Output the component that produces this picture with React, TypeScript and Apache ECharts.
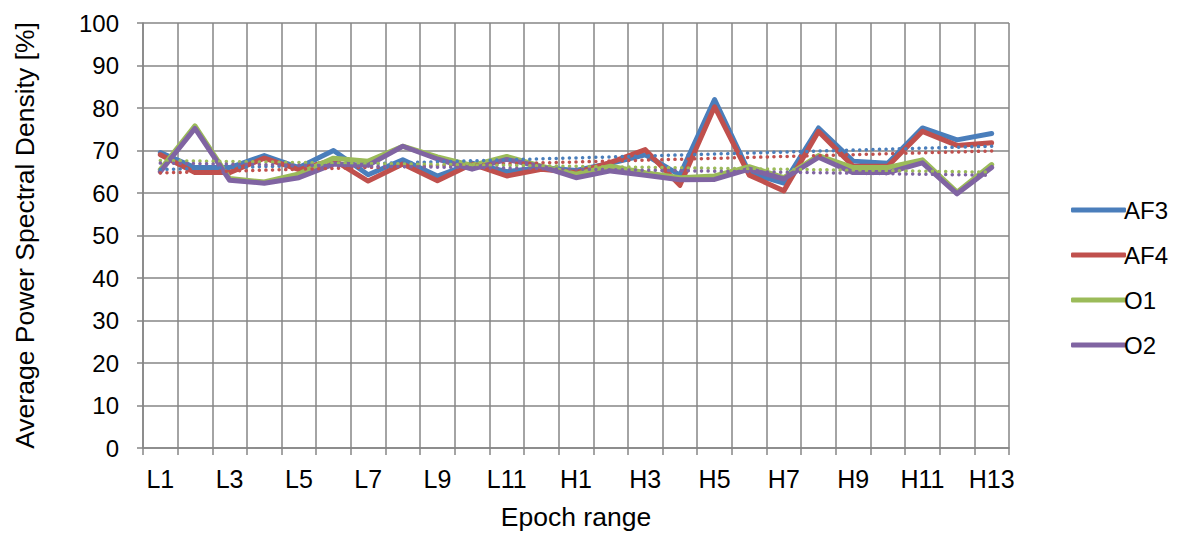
import React, { useEffect, useRef } from "react";
import * as echarts from "echarts";

// Epoch ranges: L1..L12 then H1..H13
const categories = [
  "L1", "L2", "L3", "L4", "L5", "L6", "L7", "L8", "L9", "L10", "L11", "L12",
  "H1", "H2", "H3", "H4", "H5", "H6", "H7", "H8", "H9", "H10", "H11", "H12", "H13",
];

const seriesNames = ["AF3", "AF4", "O1", "O2"];
const seriesColors = ["#4a7ebb", "#c0504d", "#9bbb59", "#8064a2"];

const af3 = [69.5, 66.0, 66.0, 68.8, 66.0, 70.0, 64.3, 67.8, 64.0, 67.0, 65.0, 66.0,
  65.3, 67.0, 69.0, 64.2, 82.0, 64.8, 62.3, 75.3, 67.5, 67.0, 75.3, 72.5, 74.0];
const af4 = [69.0, 64.8, 64.8, 68.2, 65.5, 67.8, 62.8, 66.8, 62.9, 66.8, 64.0, 65.6,
  64.8, 67.2, 70.2, 61.8, 80.3, 64.2, 60.5, 74.5, 66.3, 66.3, 74.5, 71.2, 71.8];
const o1 = [65.5, 75.8, 63.4, 62.6, 64.5, 68.2, 67.5, 71.0, 68.5, 66.5, 68.6, 66.3,
  64.4, 66.3, 64.8, 63.6, 64.0, 66.2, 63.6, 68.8, 66.0, 66.0, 67.8, 60.2, 66.7];
const o2 = [65.0, 75.2, 63.0, 62.3, 63.6, 66.8, 66.5, 71.0, 68.0, 65.6, 67.9, 66.2,
  63.6, 65.2, 64.2, 63.1, 63.2, 65.6, 63.3, 68.4, 64.8, 64.8, 67.1, 59.8, 66.0];

const seriesValues = [af3, af4, o1, o2];

const yTicks = { min: 0, max: 100, interval: 10 };

const FONT = "'Liberation Sans', Arial, sans-serif";

// Least-squares linear trend over the category index
function linearTrend(values: number[]): number[] {
  const n = values.length;
  let sx = 0, sy = 0, sxx = 0, sxy = 0;
  values.forEach((v, i) => {
    sx += i; sy += v; sxx += i * i; sxy += i * v;
  });
  const slope = (n * sxy - sx * sy) / (n * sxx - sx * sx);
  const intercept = (sy - slope * sx) / n;
  return values.map((_, i) => intercept + slope * i);
}

export default function App() {
  const ref = useRef<HTMLDivElement>(null);

  useEffect(() => {
    if (!ref.current) return;
    const chart = echarts.init(ref.current, undefined, { renderer: "svg" });

    const mainSeries = seriesNames.map((name, k) => ({
      name,
      type: "line",
      data: seriesValues[k],
      symbol: "none",
      showSymbol: false,
      z: 2 + k,
      lineStyle: { color: seriesColors[k], width: 5, join: "round", cap: "round" },
      itemStyle: { color: seriesColors[k] },
    }));

    const trendSeries = seriesNames.map((name, k) => ({
      name: name + " trend",
      type: "line",
      data: linearTrend(seriesValues[k]),
      symbol: "none",
      showSymbol: false,
      silent: true,
      z: 10 + k,
      lineStyle: { color: seriesColors[k], width: 3.5, type: [0.1, 6.5], cap: "round" },
      itemStyle: { color: seriesColors[k] },
    }));

    chart.setOption({
      animation: false,
      backgroundColor: "#ffffff",
      textStyle: { fontFamily: FONT },
      grid: { left: 143, right: 175, top: 23, bottom: 83 },
      legend: {
        data: seriesNames.map((n) => ({ name: n, icon: "roundRect" })),
        orient: "vertical",
        left: 1066,
        top: 193,
        itemWidth: 55,
        itemHeight: 5,
        itemGap: 21,
        textStyle: { fontFamily: FONT, fontSize: 24, color: "#000", padding: [0, 0, 0, -7] },
      },
      xAxis: {
        type: "category",
        data: categories,
        boundaryGap: true,
        name: "Epoch range",
        nameLocation: "middle",
        nameGap: 55,
        nameTextStyle: { fontFamily: FONT, fontSize: 26.5, color: "#000" },
        axisLine: { show: true, lineStyle: { color: "#868686", width: 1.5 } },
        axisTick: { show: true, interval: 0, length: 7, lineStyle: { color: "#868686", width: 1.5 } },
        axisLabel: { interval: 1, fontFamily: FONT, fontSize: 25, color: "#000", margin: 18 },
        splitLine: { show: true, interval: 0, lineStyle: { color: "#868686", width: 1.5 } },
      },
      yAxis: {
        type: "value",
        min: yTicks.min,
        max: yTicks.max,
        interval: yTicks.interval,
        name: "Average Power Spectral Density [%]",
        nameLocation: "middle",
        nameGap: 105,
        nameTextStyle: { fontFamily: FONT, fontSize: 26.5, color: "#000" },
        axisLine: { show: true, lineStyle: { color: "#868686", width: 1.5 } },
        axisTick: { show: true, length: 6, lineStyle: { color: "#868686", width: 1.5 } },
        axisLabel: { fontFamily: FONT, fontSize: 24, color: "#000", margin: 24 },
        splitLine: { show: true, lineStyle: { color: "#868686", width: 1.5 } },
      },
      series: [...mainSeries, ...trendSeries],
    });

    return () => chart.dispose();
  }, []);

  return (
    <div
      ref={ref}
      style={{ position: "fixed", left: 0, top: 0, width: 1184, height: 535, background: "#fff" }}
    />
  );
}
